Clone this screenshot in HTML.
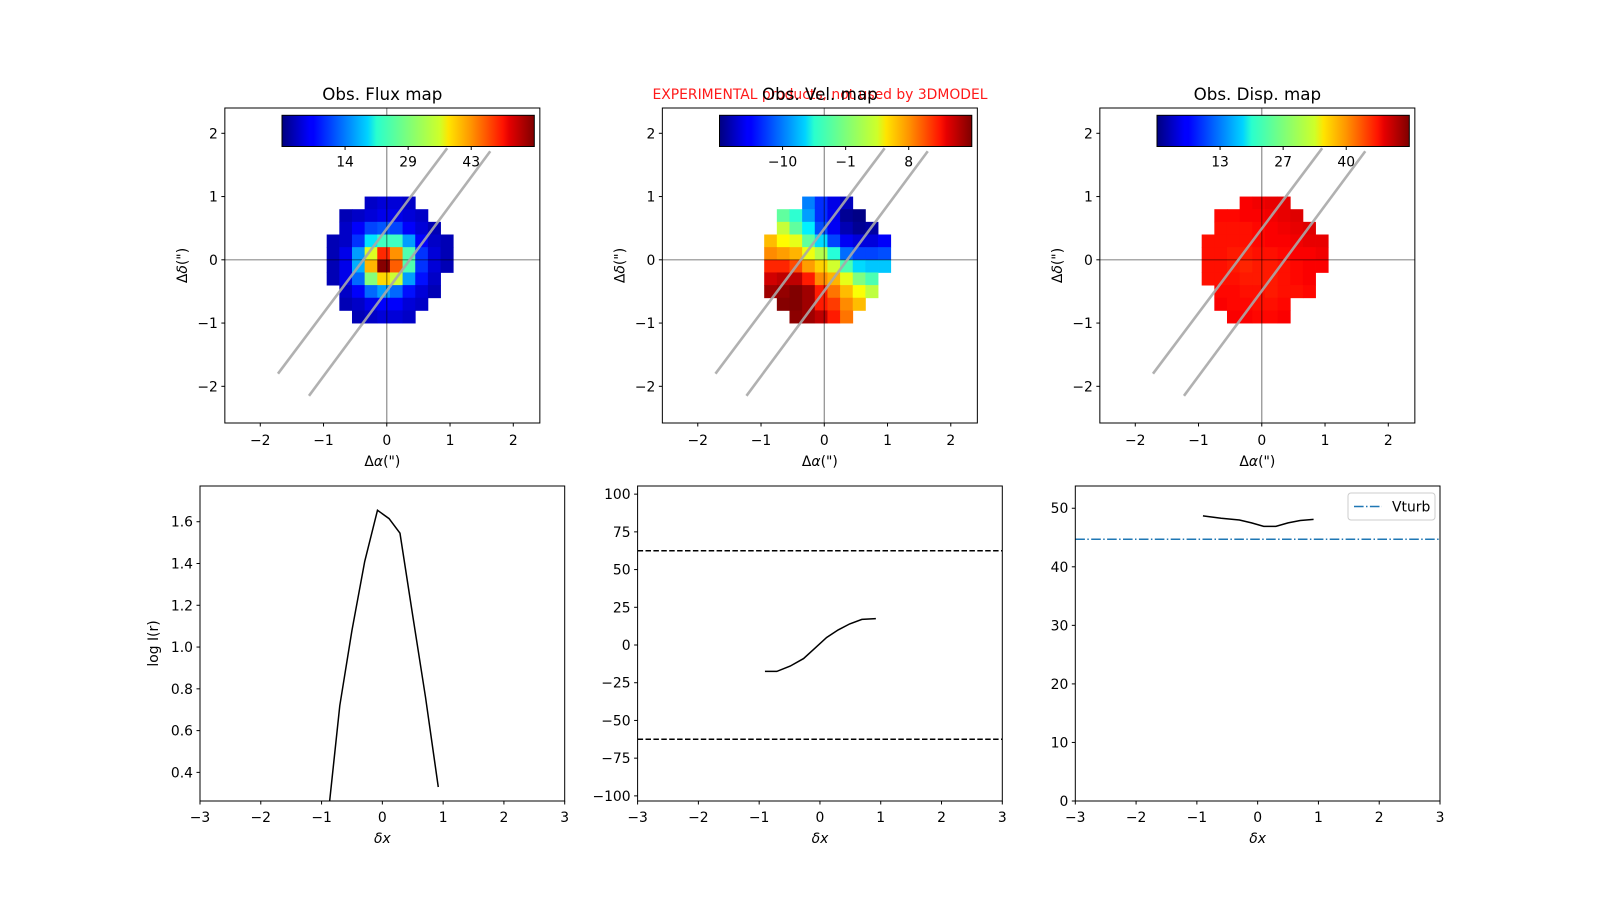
<!DOCTYPE html>
<html><head><meta charset="utf-8"><style>
html,body{margin:0;padding:0;background:#fff;}
svg{display:block;font-family:"DejaVu Sans","Liberation Sans",sans-serif;}
</style></head><body>
<svg id="fig" width="1600" height="900" viewBox="0 0 1600 900" xmlns="http://www.w3.org/2000/svg">
<defs>
<linearGradient id="jet" x1="0" x2="1" y1="0" y2="0">
<stop offset="0" stop-color="#00007f"/><stop offset="0.11" stop-color="#0000ff"/><stop offset="0.125" stop-color="#0000ff"/>
<stop offset="0.34" stop-color="#00d4ff"/><stop offset="0.375" stop-color="#29ffce"/><stop offset="0.5" stop-color="#7dff7a"/>
<stop offset="0.625" stop-color="#ceff29"/><stop offset="0.66" stop-color="#ffe500"/><stop offset="0.75" stop-color="#ff9400"/>
<stop offset="0.875" stop-color="#ff1300"/><stop offset="0.9" stop-color="#e60000"/><stop offset="1" stop-color="#7f0000"/>
</linearGradient>
</defs>
<text x="820" y="99" text-anchor="middle" font-size="13.9" fill="#ff0000" fill-opacity="0.9">EXPERIMENTAL products, not used by 3DMODEL</text>
</svg>
<script>
// ---------- data ----------
const mapTitles = ["Obs. Flux map","Obs. Vel. map","Obs. Disp. map"];
const maskRows = [[3,6],[1,7],[1,8],[0,9],[0,9],[0,9],[0,8],[0,8],[1,7],[2,6]];
const fluxMap = [
 [null,null,null,4,5,5,4,null,null,null],
 [null,3,4,5,6,6,5,4,null,null],
 [null,4,7,11,12,11,7,5,3,null],
 [3,4,10,20,25,25,16,7,4,3],
 [3,6,16,34,48,42,26,10,5,3],
 [3,6,17,40,57,45,26,10,5,3],
 [3,6,13,29,38,33,16,8,4,null],
 [null,4,7,13,16,13,8,5,3,null],
 [null,3,4,6,7,7,5,4,null,null],
 [null,null,3,4,5,5,4,null,null,null]];
const velMap = [
 [null,null,null,-10,-13,-15.5,-17,null,null,null],
 [null,-1.9,-3.7,-8.9,-13,-15.2,-18.5,-19,null,null],
 [null,1.8,-1.9,-5.9,-11.8,-15,-17.4,-18.5,-18,null],
 [6.3,4,3,-1.9,-6.7,-12.2,-15,-15.9,-15.9,-14.8],
 [8.1,7.4,6.6,3.3,1.1,-4,-10.7,-12.2,-12.2,-11.8],
 [11.8,11.8,10.4,7.4,5.5,2.2,-2.6,-6.7,-7.4,-7.4],
 [14.8,15.5,15.5,12.2,8.1,6.6,3,-0.75,-2.6,null],
 [16.6,17,17.7,16.6,12.2,8.9,6.3,3.7,1.5,null],
 [null,17.5,17.7,16.6,12.2,11,8.1,6.3,null,null],
 [null,null,17.3,16.6,15.5,12.2,8.9,null,null,null]];
const dispMap = [
 [null,null,null,47,47.5,48,48,null,null,null],
 [null,46.5,46.5,47,47,47.5,48,48.5,null,null],
 [null,46,46,46,46.5,47,47.5,48,48.5,null],
 [46,46,46,46,46.5,47,47,47.5,48,48],
 [46,46,45.5,45.5,46,46,46.5,47,47,47.5],
 [46,46,45.5,45,45.5,45.5,46,46.5,47,47],
 [46,46,46,45.5,45.5,45.5,46,46.5,47,null],
 [null,46.5,46.5,46,46,45.5,46,46,46.5,null],
 [null,47,46.5,46.5,46,46,46.5,null,null,null],
 [null,null,47,47,46.5,46.5,47,null,null,null]];
const mapVmin = [0,-19.25,0];
const mapVmax = [57.4,17.75,53.5];
const cbarLabels = [["14","29","43"],["\u221210","\u22121","8"],["13","27","40"]];
const slitA = [[-1.72,-1.80],[0.955,1.765]];
const slitB = [[-1.23,-2.15],[1.636,1.716]];
const mapTicks = [-2,-1,0,1,2];

const fluxX = [-0.89,-0.70,-0.50,-0.29,-0.08,0.11,0.29,0.50,0.71,0.92];
const fluxY = [0.20,0.72,1.08,1.41,1.655,1.615,1.545,1.15,0.76,0.33];
const velX = [-0.905,-0.71,-0.49,-0.27,-0.08,0.11,0.30,0.49,0.69,0.92];
const velY = [-17.5,-17.5,-14,-9,-2,5,10,14,17,17.5];
const velLimit = [62.5,-62.5];
const dispX = [-0.9,-0.6,-0.3,-0.1,0.1,0.3,0.5,0.7,0.92];
const dispY = [48.7,48.3,48.0,47.5,46.9,46.9,47.5,47.9,48.1];
const vturb = [44.7];
const bxTicks = [-3,-2,-1,0,1,2,3];
const fluxYTicks = [0.4,0.6,0.8,1.0,1.2,1.4,1.6];
const velYTicks = [-100,-75,-50,-25,0,25,50,75,100];
const dispYTicks = [0,10,20,30,40,50];

// ---------- helpers ----------
const NS="http://www.w3.org/2000/svg";
const svg=document.getElementById('fig');
function mk(tag,attrs,parent){const e=document.createElementNS(NS,tag);for(const k in attrs)e.setAttribute(k,attrs[k]);(parent||svg).appendChild(e);return e;}
function jet(f){f=Math.max(0,Math.min(1,f));const c=v=>Math.round(255*Math.max(0,Math.min(1,v)));
 return `rgb(${c(1.5-Math.abs(4*f-3))},${c(1.5-Math.abs(4*f-2))},${c(1.5-Math.abs(4*f-1))})`;}
function fmt(v){const s=(Math.round(v*10)/10).toString();return s.replace('-','\u2212');}

// ---------- maps ----------
const mapL=[224.85,662.35,1099.85], mapT=108, mapS=315;
const mxlim=[-2.56,2.42], mylim=[-2.58,2.40];
const maps=[fluxMap,velMap,dispMap];
const mapNames=["flux","velocity","dispersion"];
for(let p=0;p<3;p++){
 const L=mapL[p];
 const sx=x=>L+(x-mxlim[0])/(mxlim[1]-mxlim[0])*mapS;
 const sy=y=>mapT+(mylim[1]-y)/(mylim[1]-mylim[0])*mapS;
 const g=mk('g',{});
 
 
 const grid=maps[p];
 for(let r=0;r<grid.length;r++)for(let c=0;c<grid[r].length;c++){
  const v=grid[r][c]; if(v===null)continue;
  const x0=sx(-0.95+0.2*c), x1=sx(-0.75+0.2*c), y0=sy(1.0-0.2*r), y1=sy(0.8-0.2*r);
  const cell=mk('rect',{x:x0,y:y0,width:x1-x0+0.4,height:y1-y0+0.4,fill:jet((v-mapVmin[p])/(mapVmax[p]-mapVmin[p]))},g);
  
  
 }
 const hx=mk('line',{x1:L,x2:L+mapS,y1:sy(0),y2:sy(0),stroke:'#000','stroke-opacity':0.45,'stroke-width':1.2},g);
 
 
 const vx=mk('line',{x1:sx(0),x2:sx(0),y1:mapT,y2:mapT+mapS,stroke:'#000','stroke-opacity':0.45,'stroke-width':1.2},g);
 
 
 for(const s of [slitA,slitB]){
  const sl=mk('line',{x1:sx(s[0][0]),y1:sy(s[0][1]),x2:sx(s[1][0]),y2:sy(s[1][1]),stroke:'#a8a8a8','stroke-opacity':0.9,'stroke-width':2.6},g);
  
  
 }
 const fr=mk('rect',{x:L,y:mapT,width:mapS,height:mapS,fill:'none',stroke:'#000','stroke-width':1},g);
 
 
 for(const t of mapTicks){
  const tk=mk('line',{x1:sx(t),x2:sx(t),y1:mapT+mapS,y2:mapT+mapS+3.5,stroke:'#000'},g);
  
  
  const tl=mk('text',{x:sx(t),y:mapT+mapS+22,'text-anchor':'middle','font-size':13.9},g);tl.textContent=fmt(t);
  
  
  const ty=mk('line',{x1:L-3.5,x2:L,y1:sy(t),y2:sy(t),stroke:'#000'},g);
  
  
  const yl=mk('text',{x:L-7,y:sy(t)+5,'text-anchor':'end','font-size':13.9},g);yl.textContent=fmt(t);
  
  
 }
 const xl=mk('text',{x:L+mapS/2,y:466,'text-anchor':'middle','font-size':13.9},g);
 xl.innerHTML='\u0394<tspan font-style="italic">\u03b1</tspan>(")';
 
 
 const yl=mk('text',{x:0,y:0,'text-anchor':'middle','font-size':13.9,transform:`translate(${L-38},${mapT+mapS/2}) rotate(-90)`},g);
 yl.innerHTML='\u0394<tspan font-style="italic">\u03b4</tspan>(")';
 
 
 const tt=mk('text',{x:L+mapS/2,y:100,'text-anchor':'middle','font-size':16.7},g);tt.textContent=mapTitles[p];
 
 
 // colorbar
 const cx=L+57.15, cw=252.3, cy=115.3, ch=31.2;
 const cb=mk('rect',{x:cx,y:cy,width:cw,height:ch,fill:'url(#jet)',stroke:'#000','stroke-width':1},g);
 
 
 cbarLabels[p].forEach((lab,i)=>{
  const tx=cx+cw*(0.25*(i+1));
  const ct=mk('line',{x1:tx,x2:tx,y1:cy+ch,y2:cy+ch+3.5,stroke:'#000'},g);
  
  
  const cl=mk('text',{x:tx,y:cy+ch+20,'text-anchor':'middle','font-size':13.9},g);cl.textContent=lab;
  
  
 });
}

// ---------- bottom plots ----------
const bL=[200,637.6,1075.3], bT=486, bW=364.7, bH=315;
const bylims=[[0.263,1.771],[-103.4,105.4],[0,53.8]];
const bYT=[fluxYTicks,velYTicks,dispYTicks];
const bXs=[fluxX,velX,dispX], bYs=[fluxY,velY,dispY];
const bNames=["flux-profile","velocity-profile","dispersion-profile"];
for(let p=0;p<3;p++){
 const L=bL[p], yl=bylims[p];
 const sx=x=>L+(x+3)/6*bW;
 const sy=y=>bT+(yl[1]-y)/(yl[1]-yl[0])*bH;
 const g=mk('g',{});
 
 
 const clipId='clip'+p;
 const cp=mk('clipPath',{id:clipId},g); mk('rect',{x:L,y:bT,width:bW,height:bH},cp);
 const pg=mk('g',{'clip-path':`url(#${clipId})`},g);
 if(p===1){
  for(const v of velLimit){
   const dl=mk('line',{x1:L,x2:L+bW,y1:sy(v),y2:sy(v),stroke:'#000','stroke-width':1.5,'stroke-dasharray':'5.5,2.4'},pg);
   
   
  }
 }
 if(p===2){
  const vt=mk('line',{x1:L,x2:L+bW,y1:sy(vturb[0]),y2:sy(vturb[0]),stroke:'#1f77b4','stroke-width':1.5,'stroke-dasharray':'9.6,2.4,1.5,2.4'},pg);
  
  
 }
 const pts=bXs[p].map((x,i)=>`${sx(x).toFixed(2)},${sy(bYs[p][i]).toFixed(2)}`).join(' ');
 const pl=mk('polyline',{points:pts,fill:'none',stroke:'#000','stroke-width':1.5},pg);
 
 
 const fr=mk('rect',{x:L,y:bT,width:bW,height:bH,fill:'none',stroke:'#000','stroke-width':1},g);
 
 
 for(const t of bxTicks){
  const tk=mk('line',{x1:sx(t),x2:sx(t),y1:bT+bH,y2:bT+bH+3.5,stroke:'#000'},g);
  
  
  const tl=mk('text',{x:sx(t),y:bT+bH+21,'text-anchor':'middle','font-size':13.9},g);tl.textContent=fmt(t);
  
  
 }
 for(const t of bYT[p]){
  const ty=mk('line',{x1:L-3.5,x2:L,y1:sy(t),y2:sy(t),stroke:'#000'},g);
  
  
  const lab=(p===0)?t.toFixed(1):fmt(t);
  const tl=mk('text',{x:L-7,y:sy(t)+5,'text-anchor':'end','font-size':13.9},g);tl.textContent=lab;
  
  
 }
 const xt=mk('text',{x:L+bW/2,y:843,'text-anchor':'middle','font-size':13.9,'font-style':'italic'},g);xt.textContent='\u03b4x';
 
 
 if(p===0){
  const yt=mk('text',{x:0,y:0,'text-anchor':'middle','font-size':13.9,transform:`translate(158,${bT+bH/2}) rotate(-90)`},g);yt.textContent='log I(r)';
  
  
 }
 if(p===2){
  const lg=mk('rect',{x:1348,y:493,width:87,height:27,rx:3,fill:'#fff','fill-opacity':0.8,stroke:'#ccc'},g);
  
  
  const ll=mk('line',{x1:1354,x2:1382,y1:506.5,y2:506.5,stroke:'#1f77b4','stroke-width':1.5,'stroke-dasharray':'9.6,2.4,1.5,2.4'},g);
  
  
  const lt=mk('text',{x:1392,y:511.5,'font-size':13.9},g);lt.textContent='Vturb';
  
  
 }
}
</script>
</body></html>
